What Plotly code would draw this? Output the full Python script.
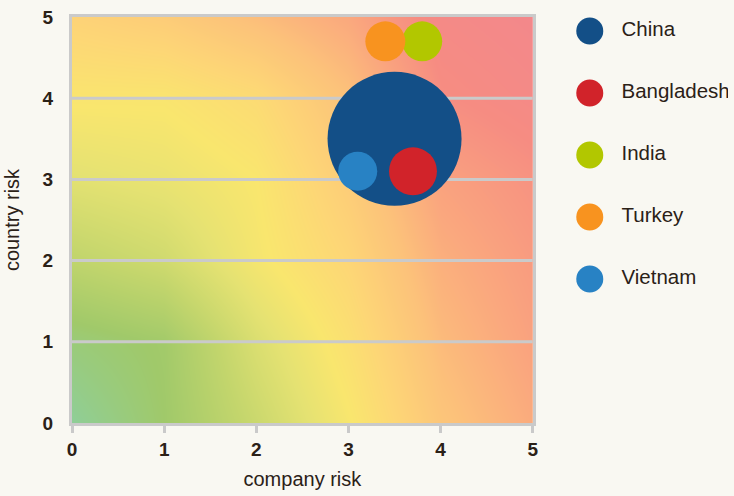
import plotly.graph_objects as go

# Sourcing countries: company risk, country risk and share of volume
countries = ["China", "Bangladesh", "India", "Turkey", "Vietnam"]
company_risk = [3.5, 3.7, 3.8, 3.4, 3.1]
country_risk = [3.5, 3.1, 4.7, 4.7, 3.1]
volume_share = [100, 12.8, 8.9, 8.9, 8.5]
colors = ["#134f87", "#d1232a", "#b2c700", "#f8931f", "#2882c4"]

# Risk field behind the bubbles (rows: country risk 0..5, cols: company risk 0..5)
field_x = [0, 1, 2, 3, 4, 5]
field_y = [0, 1, 2, 3, 4, 5]
field_z = [
    [0.00, 0.12, 0.28, 0.45, 0.66, 0.78],
    [0.08, 0.13, 0.34, 0.50, 0.71, 0.82],
    [0.24, 0.30, 0.44, 0.56, 0.76, 0.85],
    [0.37, 0.40, 0.46, 0.62, 0.82, 0.89],
    [0.47, 0.47, 0.53, 0.68, 0.91, 0.96],
    [0.58, 0.62, 0.70, 0.79, 0.96, 1.00],
]
field_colors = [
    [0.00, "#8fce98"],
    [0.12, "#a0c96a"],
    [0.25, "#c2d56c"],
    [0.38, "#e5e272"],
    [0.46, "#f9e66e"],
    [0.56, "#fdd676"],
    [0.68, "#fcc27a"],
    [0.80, "#faa67e"],
    [0.92, "#f68c82"],
    [1.00, "#f3888b"],
]

tick_vals = [0, 1, 2, 3, 4, 5]
grid_y = [1, 2, 3, 4]

ink = "#2b2117"
line_grey = "#cacaca"
font_family = "Liberation Sans, Arial, sans-serif"

fig = go.Figure()

fig.add_trace(go.Heatmap(
    x=field_x, y=field_y, z=field_z,
    colorscale=field_colors, zmin=0, zmax=1,
    zsmooth="best", showscale=False, hoverinfo="skip",
))

# Horizontal grid lines, drawn over the risk field
gx, gy = [], []
for v in grid_y:
    gx += [tick_vals[0], tick_vals[-1], None]
    gy += [v, v, None]
fig.add_trace(go.Scatter(
    x=gx, y=gy, mode="lines",
    line=dict(color=line_grey, width=3),
    hoverinfo="skip", showlegend=False,
))

max_diameter = 134
sizeref = 2.0 * max(volume_share) / max_diameter ** 2
for name, cx, cy, share, col in zip(countries, company_risk, country_risk,
                                     volume_share, colors):
    fig.add_trace(go.Scatter(
        x=[cx], y=[cy], mode="markers", name=name,
        marker=dict(size=[share], sizemode="area", sizeref=sizeref,
                    color=col, opacity=1, line=dict(width=0)),
        showlegend=False,
    ))

# Key on the right
rows = list(range(len(countries)))
fig.add_trace(go.Scatter(
    x=[34.5] * len(countries), y=rows, mode="markers",
    marker=dict(size=27, color=colors, line=dict(width=0)),
    xaxis="x2", yaxis="y2", hoverinfo="skip", showlegend=False,
))
fig.add_trace(go.Scatter(
    x=[66.5] * len(countries), y=rows, mode="text", text=countries,
    textposition="middle right",
    textfont=dict(size=20.5, color=ink, family=font_family),
    xaxis="x2", yaxis="y2", hoverinfo="skip", showlegend=False,
))

fig.update_layout(
    width=734, height=496,
    margin=dict(l=72, r=0, t=17, b=73),
    paper_bgcolor="#f9f8f2", plot_bgcolor="#f9f8f2",
    font=dict(family=font_family, color=ink),
    showlegend=False,
    xaxis=dict(
        domain=[0, 465 / 662], range=[0, 5],
        tickvals=tick_vals, ticktext=[str(v) for v in tick_vals],
        tickfont=dict(size=19, weight="bold", color=ink),
        ticks="outside", ticklen=7, tickwidth=3, tickcolor=line_grey,
        showgrid=False, zeroline=False,
        showline=True, linecolor=line_grey, linewidth=3, mirror=True,
        title=dict(text="company risk", font=dict(size=20, color=ink), standoff=14),
    ),
    yaxis=dict(
        range=[0, 5],
        tickvals=tick_vals, ticktext=[str(v) for v in tick_vals],
        tickfont=dict(size=19, weight="bold", color=ink),
        ticks="", ticklabelstandoff=12,
        showgrid=False, zeroline=False,
        showline=True, linecolor=line_grey, linewidth=3, mirror=True,
        title=dict(text="country risk", font=dict(size=20, color=ink), standoff=18),
    ),
    xaxis2=dict(domain=[488 / 662, 1], range=[0, 174], visible=False,
                anchor="y2"),
    yaxis2=dict(domain=[0, 1], range=[6.322, -0.2258], visible=False,
                anchor="x2"),
)

fig.write_html("out.html")
